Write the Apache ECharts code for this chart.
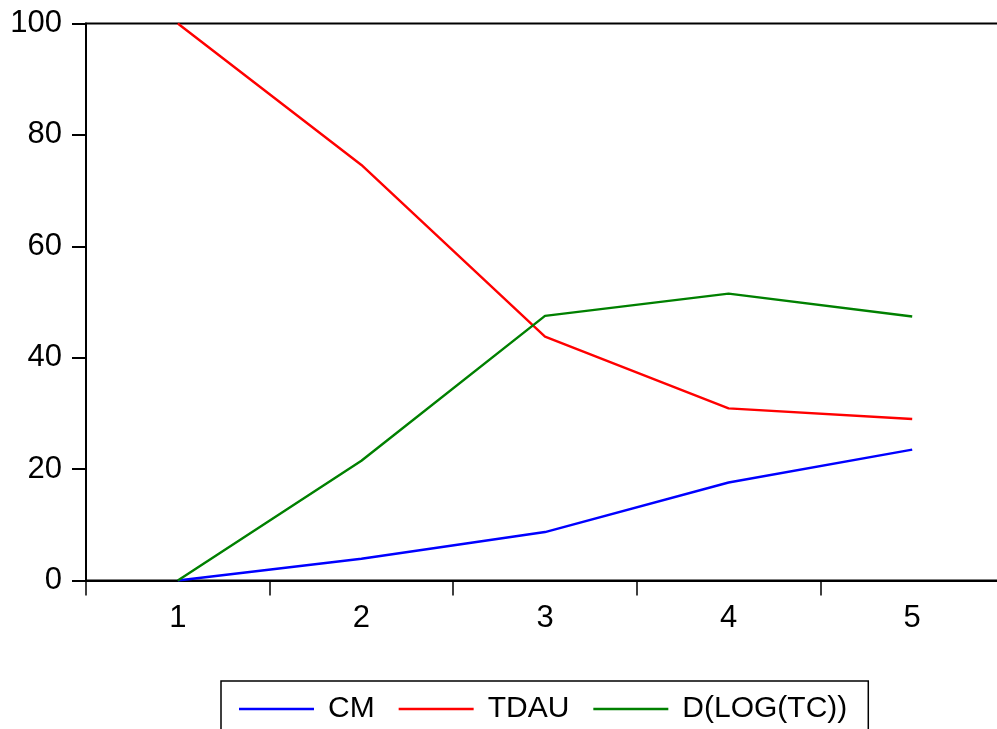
<!DOCTYPE html>
<html>
<head>
<meta charset="utf-8">
<script src="https://cdn.jsdelivr.net/npm/echarts@6/dist/echarts.min.js"></script>
<style>
html,body{margin:0;padding:0;background:#fff;overflow:hidden;width:997px;height:729px;}
#chart{width:1012px;height:729px;}
</style>
</head>
<body>
<div id="chart"></div>
<script>
const categories = ['1', '2', '3', '4', '5'];
const cmValues = [0, 3.9, 8.7, 17.6, 23.5];
const tdauValues = [100, 74.6, 43.8, 30.9, 29.0];
const dlogtcValues = [0, 21.5, 47.5, 51.5, 47.4];
const yTicks = [0, 20, 40, 60, 80, 100];

const FONT = "'Liberation Sans', Arial, sans-serif";
const chart = echarts.init(document.getElementById('chart'), null, {renderer: 'canvas'});

function lineSeries(name, data, color) {
  return {
    name: name,
    type: 'line',
    data: data,
    symbol: 'none',
    smooth: false,
    lineStyle: {color: color, width: 2.4},
    itemStyle: {color: color},
    animation: false
  };
}

chart.setOption({
  backgroundColor: '#fff',
  animation: false,
  grid: {
    left: 86, right: 8, top: 23.5, bottom: 148.5,
    show: true, borderColor: '#000', borderWidth: 2, backgroundColor: 'transparent'
  },
  xAxis: {
    type: 'category',
    data: categories,
    boundaryGap: true,
    axisLine: {show: true, lineStyle: {color: '#000', width: 2}},
    axisTick: {show: true, inside: false, length: 15, alignWithLabel: false, lineStyle: {color: '#000', width: 1.5}},
    axisLabel: {color: '#000', fontSize: 31, fontFamily: FONT, margin: 22},
    splitLine: {show: false}
  },
  yAxis: {
    type: 'value',
    min: yTicks[0],
    max: yTicks[yTicks.length - 1],
    interval: yTicks[1] - yTicks[0],
    axisLine: {show: true, lineStyle: {color: '#000', width: 2}},
    axisTick: {show: true, inside: false, length: 14, lineStyle: {color: '#000', width: 2}},
    axisLabel: {color: '#000', fontSize: 31, fontFamily: FONT, margin: 24, padding: [0, 0, 6, 0]},
    splitLine: {show: false}
  },
  legend: {
    left: 221,
    top: 681,
    orient: 'horizontal',
    icon: 'rect',
    itemWidth: 75,
    itemHeight: 2.5,
    itemGap: 24,
    padding: [13, 21, 13, 18],
    borderColor: '#000',
    borderWidth: 1.5,
    backgroundColor: '#fff',
    textStyle: {color: '#000', fontSize: 30, fontFamily: FONT, padding: [0, 0, 0, 9]},
    data: ['CM', 'TDAU', 'D(LOG(TC))']
  },
  series: [
    lineSeries('CM', cmValues, '#0000FF'),
    lineSeries('TDAU', tdauValues, '#FF0000'),
    lineSeries('D(LOG(TC))', dlogtcValues, '#008000')
  ]
});
</script>
</body>
</html>
